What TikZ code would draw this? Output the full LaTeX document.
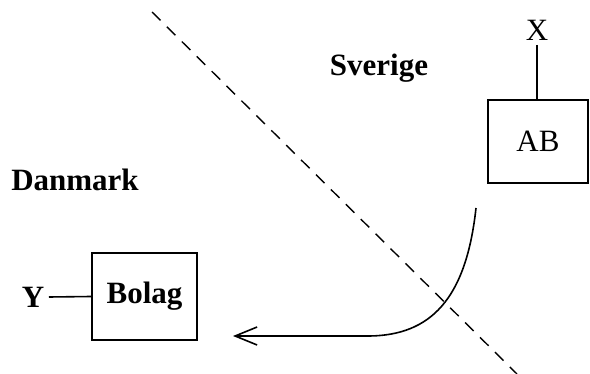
\documentclass[tikz,border=0pt]{standalone}
\usepackage{fontspec}
\setmainfont{Liberation Serif}
\usetikzlibrary{arrows.meta, positioning}

\begin{document}
\begin{tikzpicture}[x=0.5pt, y=-0.5pt, line width=0.8pt,
    box/.style={draw, rectangle, inner sep=0pt},
    land/.style={font=\fontsize{15.5}{18}\selectfont\bfseries},
    tag/.style={font=\fontsize{15.5}{18}\selectfont, inner sep=2pt}]
  \useasboundingbox (0,0) rectangle (590,374);
  % border between the two countries
  \coordinate (north) at (152,12);
  \coordinate (south) at (517,374);
  \draw[line width=0.7pt, dash pattern=on 6pt off 4.5pt] (north) -- (south);
  \node[land] (se) at (379,68) {Sverige};
  \node[land] (dk) at (75,180) {Danmark};
  % companies
  \node[box, tag, minimum width=50pt, minimum height=41.5pt] (ab) at (538,141.5) {AB};
  \node[tag] (x) at (537,30) {X};
  \node[box, tag, font=\fontsize{15.5}{18}\selectfont\bfseries, minimum width=52.5pt, minimum height=43.5pt] (bolag) at (144.5,296.5) {Bolag};
  \node[tag, font=\fontsize{15.5}{18}\selectfont\bfseries] (y) at (33,297) {Y};
  \draw (x.south) -- (x.south |- ab.north);
  \draw (y.east) -- (bolag.west);
  % transfer
  \coordinate (start) at (476,208);
  \coordinate (bend) at (370,336);
  \coordinate (tip) at (233,336);
  \draw[-{Straight Barb[length=11pt,width=9pt]}] (start) .. controls (466,300) and (430,335) .. (bend) -- (tip);
\end{tikzpicture}
\end{document}
